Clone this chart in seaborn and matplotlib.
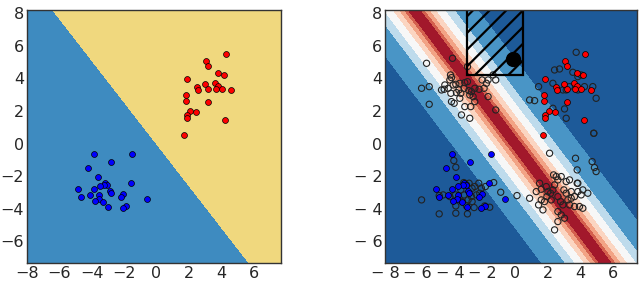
import numpy as np
import seaborn as sns
import matplotlib.pyplot as plt
from matplotlib.patches import Rectangle

# labelled points (same in both panels)
red_x = [4.33, 3.09, 3.19, 3.81, 4.16, 1.86, 3.03, 3.60, 3.83, 2.49, 2.56, 3.19,
         3.67, 4.08, 4.64, 1.81, 1.81, 3.21, 2.08, 2.47, 1.86, 1.86, 4.24, 1.69]
red_y = [5.48, 5.07, 4.78, 4.35, 4.23, 3.97, 3.64, 3.72, 3.56, 3.46, 3.27, 3.37,
         3.34, 3.37, 3.27, 2.97, 2.64, 2.56, 2.02, 1.92, 1.74, 1.59, 1.45, 0.53]
blue_x = [-3.86, -1.50, -2.80, -4.22, -3.64, -1.58, -3.17, -3.04, -3.23, -3.51,
          -3.85, -4.87, -2.88, -2.81, -2.06, -3.54, -4.13, -4.69, -2.22, -3.56,
          -0.61, -3.82, -3.29, -1.87, -2.98, -2.09]
blue_y = [-0.65, -0.65, -1.13, -1.51, -2.03, -2.41, -2.43, -2.54, -2.56, -2.60,
          -2.76, -2.80, -2.88, -3.05, -3.09, -3.15, -3.15, -3.27, -3.29, -3.41,
          -3.40, -3.54, -3.60, -3.84, -3.87, -3.95]

# unlabelled points (right panel), read in zoom pixels of two crops
top_zx = [125, 203, 248, 197, 200, 195, 110, 133, 170, 178, 190, 180, 205, 213, 225,
          240, 248, 198, 215, 228, 222, 238, 252, 260, 270, 283, 298, 310, 325, 333,
          292, 305, 255, 265, 270, 310, 200, 208, 225, 240, 258, 133, 230, 255, 333,
          575, 510, 525, 565, 580, 590, 462, 505, 535, 545, 555, 600, 625, 635, 435,
          450, 505, 540, 545, 628, 580]
top_zy = [70, 55, 80, 105, 113, 120, 145, 140, 150, 148, 145, 135, 135, 133, 130,
          128, 125, 160, 158, 160, 150, 145, 152, 155, 145, 148, 145, 120, 105, 120,
          120, 130, 165, 170, 185, 170, 185, 190, 175, 200, 200, 193, 225, 235, 210,
          37, 90, 87, 97, 110, 105, 140, 130, 150, 150, 140, 140, 140, 175, 180,
          182, 205, 207, 235, 280, 150]
bot_zx = [628, 495, 573, 623, 630, 635, 578, 580,
          207, 213, 237, 245, 253, 262, 270, 282, 290, 302, 285, 275, 260, 250, 238,
          228, 212, 195, 175, 163, 110, 232, 262, 213, 245, 268, 300, 315, 163, 213,
          248, 327, 348, 397, 435,
          470, 470, 462, 480, 487, 490, 498, 500, 505, 510, 507, 515, 520, 530, 545,
          555, 538, 545, 560, 570, 580, 590, 595, 610, 578, 520, 528, 535, 550, 555,
          560, 570, 585, 595, 455, 475, 520, 530, 540, 520, 510, 485, 465]
bot_zy = [10, 70, 85, 95, 113, 125, 120, 160,
          92, 112, 158, 165, 160, 175, 170, 160, 175, 170, 190, 195, 200, 210, 195,
          180, 195, 200, 195, 197, 210, 215, 215, 228, 228, 233, 228, 232, 252, 250,
          252, 158, 187, 197, 205,
          178, 210, 225, 215, 200, 185, 190, 210, 180, 165, 135, 140, 150, 140, 155,
          150, 180, 190, 185, 200, 185, 195, 180, 190, 160, 200, 215, 225, 210, 225,
          205, 230, 230, 235, 185, 240, 245, 255, 265, 275, 300, 170, 160]

def crop_to_data(zx, zy, y_off):
    x = -8 + np.array(zx) / 3 / 16.3
    y = 8.2 - (y_off - 10 + np.array(zy) / 3) / 16.3
    return x, y

tx, ty = crop_to_data(top_zx, top_zy, 40)
bx, by = crop_to_data(bot_zx, bot_zy, 130)
open_x = np.concatenate([tx, bx])
open_y = np.concatenate([ty, by])

# decision boundaries
left_w = [1.28, 1.0]
right_slope = 1.32
band_edges = [0, 0.45, 0.68, 1.0, 1.38, 1.95, 2.55, 4.0, 100]
band_colors = ['#a2182b', '#d4604e', '#f2a385', '#fbd5c1', '#f7f7f7',
               '#bedbec', '#4995c6', '#1d5a99']
rect_box = [-2.95, 4.2, 3.45, 4.5]
dot_x = [-0.15]
dot_y = [5.2]

sns.set_style('white')
plt.rcParams.update({
    'font.family': ['DejaVu Sans'],
    'font.size': 11.5,
    'xtick.direction': 'in', 'ytick.direction': 'in',
    'xtick.top': True, 'ytick.right': True,
    'xtick.bottom': True, 'ytick.left': True,
    'xtick.major.size': 3, 'ytick.major.size': 3,
    'xtick.major.width': 0.6, 'ytick.major.width': 0.6,
    'xtick.major.pad': 2, 'ytick.major.pad': 2,
    'axes.edgecolor': '#333333', 'axes.linewidth': 1.0,
    'hatch.linewidth': 1.6,
})

fig = plt.figure(figsize=(6.4, 2.82), dpi=100)
ax1 = fig.add_axes([27 / 640, 19 / 282, 254 / 640, 253 / 282])
ax2 = fig.add_axes([385 / 640, 19 / 282, 252 / 640, 253 / 282])

# left panel
gx, gy = np.meshgrid(np.linspace(-8.5, 8.5, 600), np.linspace(-8, 9, 600))
z = left_w[0] * gx + left_w[1] * gy
ax1.contourf(gx, gy, z, levels=[-100, 0, 100], colors=['#3e8bc0', '#f0d87e'])
sns.scatterplot(x=red_x, y=red_y, ax=ax1, color='red', edgecolor='k', s=18, linewidth=0.5)
sns.scatterplot(x=blue_x, y=blue_y, ax=ax1, color='blue', edgecolor='k', s=18, linewidth=0.5)
ax1.set_xlim(-8.0, 7.7)
ax1.set_ylim(-7.33, 8.2)

# right panel
h = np.abs(gx + gy / right_slope)
ax2.contourf(gx, gy, h, levels=band_edges, colors=band_colors)
sns.scatterplot(x=open_x, y=open_y, ax=ax2, facecolor='none', edgecolor='#222222',
                s=20, linewidth=0.8)
sns.scatterplot(x=red_x, y=red_y, ax=ax2, color='red', edgecolor='k', s=18, linewidth=0.5)
sns.scatterplot(x=blue_x, y=blue_y, ax=ax2, color='blue', edgecolor='k', s=18, linewidth=0.5)
ax2.add_patch(Rectangle((rect_box[0], rect_box[1]), rect_box[2], rect_box[3],
                        fill=False, hatch='//', edgecolor='k', linewidth=1.6))
ax2.scatter(dot_x, dot_y, s=100, c='k')
ax2.set_xlim(-8.0, 7.5)
ax2.set_ylim(-7.33, 8.2)

xt = list(range(-8, 7, 2))
yt = list(range(-6, 9, 2))
for ax in (ax1, ax2):
    ax.set_xticks(xt)
    ax.set_yticks(yt)
ax2.set_xticklabels([('\u2212 %d' % -v) if v < 0 else str(v) for v in xt])
ax2.set_yticklabels([('\u2212 %d' % -v) if v < 0 else str(v) for v in yt])

plt.savefig('out.png', dpi=100)
